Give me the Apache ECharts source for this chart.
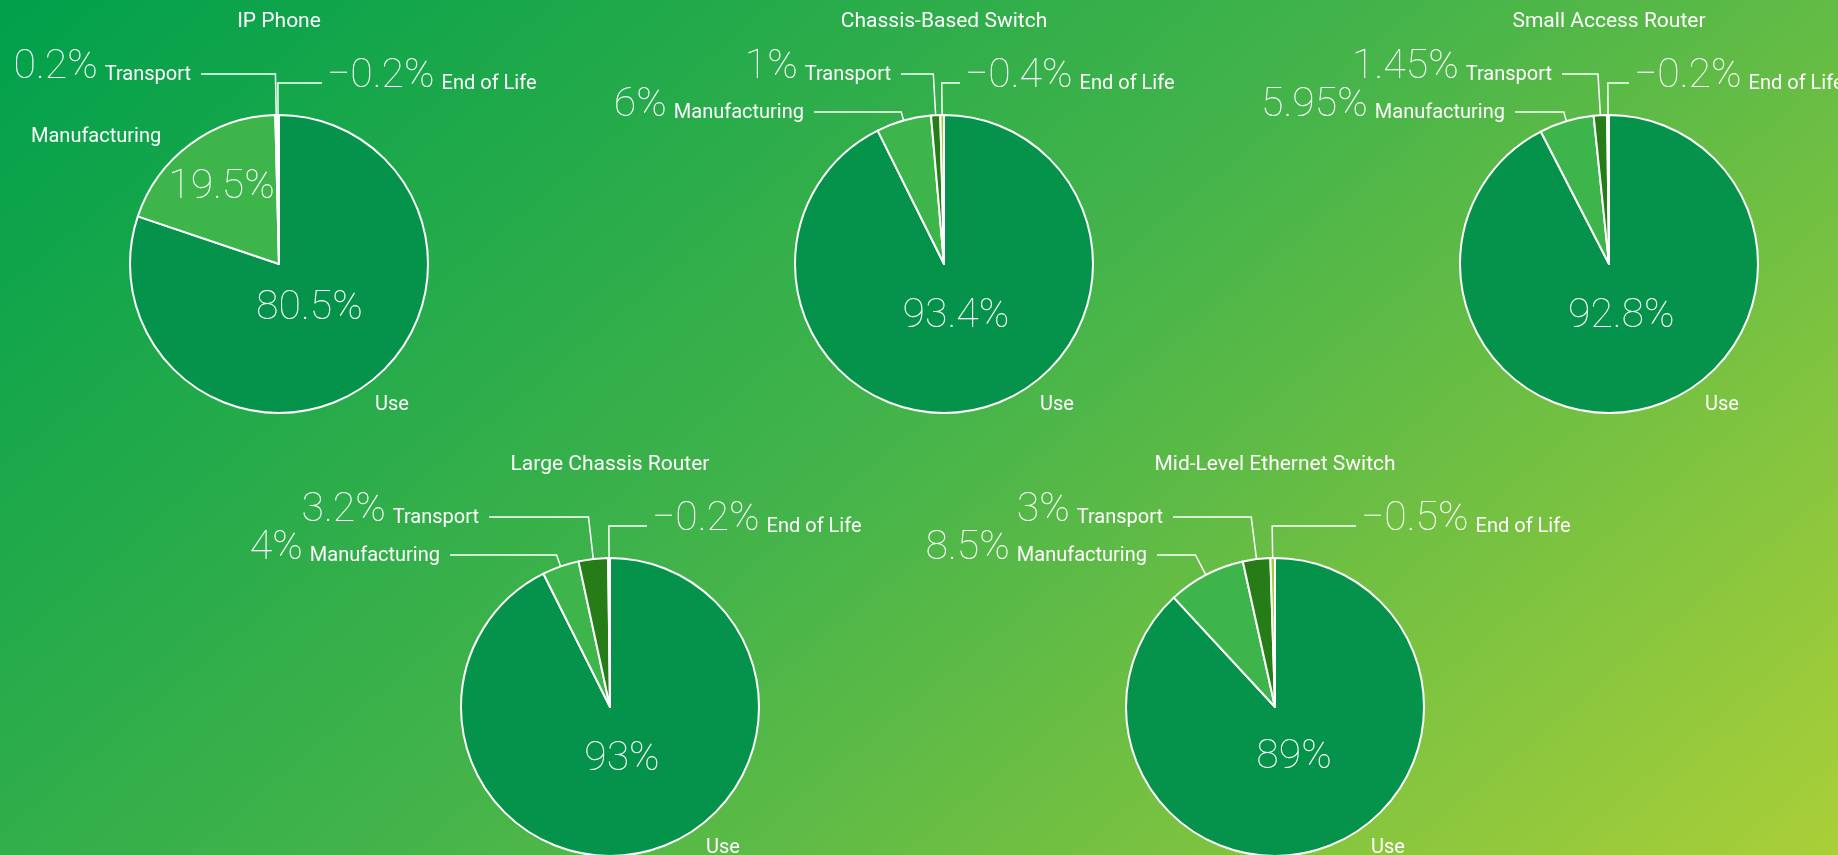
<!DOCTYPE html>
<html>
<head>
<meta charset="utf-8">
<script src="https://cdn.jsdelivr.net/npm/echarts@6/dist/echarts.min.js"></script>
<style>
  html, body { margin: 0; padding: 0; }
  #chart {
    width: 1838px; height: 855px;
    background: linear-gradient(140deg, #00a04b 0%, #45b44a 50%, #aacf38 100%);
  }
</style>
</head>
<body>
<div id="chart"></div>
<script>
// Life-cycle carbon footprint share per product, in percent
const titles = ['IP Phone', 'Chassis-Based Switch', 'Small Access Router', 'Large Chassis Router', 'Mid-Level Ethernet Switch'];
const stages = ['Use', 'Manufacturing', 'Transport', 'End of Life'];
const useShare = [80.5, 93.4, 92.8, 93, 89];
const manufacturingShare = [19.5, 6, 5.95, 4, 8.5];
const transportShare = [0.2, 1, 1.45, 3.2, 3];
const endOfLifeShare = [-0.2, -0.4, -0.2, -0.2, -0.5];

// ---- layout ----
const R = 149;
const centers = [[279, 264], [944, 264], [1609, 264], [610, 707], [1275, 707]];
// how far above the centre the leader of Manufacturing / Transport / End of Life runs
const leaderRise = [152, 190, 181];
// where each leader stops horizontally, relative to the centre (Manufacturing, Transport, End of Life)
const leaderReach = [[null, -78, 43], [-130, -43, 16], [-94, -47, 20], [-160, -121, 37], [-118, -102, 81]];
// big slices: depth of the value inside the slice, and where the name sits (left x, baseline) off the centre
const insideDepth = [0.35, 0.65];
const namePlace = [[96, 148], [-248, -120]];
const sliceColors = ['#05924a', '#3db54a', '#267c17', '#a4cc3c'];
const FONT = 'Roboto';
const NUM = 41, NAME = 20;
const mid = fs => 0.342 * fs;          // alphabetic baseline below the 'middle' line
const DIGIT_HALF = 16;                 // half the height of the big digits

const shares = titles.map((_, k) => [useShare[k], manufacturingShare[k], transportShare[k], endOfLifeShare[k]]);

const fmt = v => (v < 0 ? '\u2212' + (-v) : String(v)) + '%';

const measure = document.createElement('canvas').getContext('2d');
function nameWidth(s) { measure.font = NAME + 'px ' + FONT; return measure.measureText(s).width; }

const baseRich = {
  v: { fontFamily: FONT, fontSize: NUM, fontWeight: 100, lineHeight: NUM, color: '#fff', verticalAlign: 'bottom', align: 'center' },
  n: { fontFamily: FONT, fontSize: NAME, color: '#fff', verticalAlign: 'bottom', padding: [0, 0, 3, 7] },
  u: { fontFamily: FONT, fontSize: NAME, color: '#fff', align: 'center' }
};

const series = [];
const title = [];

titles.forEach((t, k) => {
  const [cx, cy] = centers[k];
  const signed = shares[k];
  const mags = signed.map(Math.abs);
  const total = mags.reduce((a, b) => a + b, 0);
  const anchors = [];
  let before = 0;

  const data = signed.map((v, i) => {
    const th = (before + mags[i] / 2) / total * 2 * Math.PI;
    before += mags[i];
    const val = fmt(v);
    const item = { name: stages[i], value: mags[i], itemStyle: { color: sliceColors[i] } };

    if (mags[i] >= 15) {
      // value inside the slice, name outside without a leader
      const depth = insideDepth[i];
      const vCx = cx + depth * R * Math.sin(th);
      const vBase = cy - depth * R * Math.cos(th) + DIGIT_HALF;
      const [nl, nb] = namePlace[i];
      const nBase = cy + nb;
      const shift = (cx + nl + nameWidth(stages[i]) / 2) - vCx;
      const pad = shift >= 0 ? [0, 0, 0, 2 * shift] : [0, -2 * shift, 0, 0];
      let top, lh, text;
      if (nBase > vBase) {
        top = vBase - NUM / 2 - mid(NUM);
        lh = 2 * (nBase - top - NUM - mid(NAME));
        text = '{v|' + val + '}\n{u|' + stages[i] + '}';
      } else {
        lh = 2 * (vBase - nBase - NUM / 2 - mid(NUM) + mid(NAME));
        top = nBase - lh / 2 - mid(NAME);
        text = '{u|' + stages[i] + '}\n{v|' + val + '}';
      }
      item.label = { formatter: text, rich: { u: { padding: pad, lineHeight: lh } } };
      item.labelLine = { show: false };
      anchors.push({ x: vCx, y: top, align: 'center', verticalAlign: 'top' });
    } else {
      // value + name beside an elbow leader
      const lineY = cy - leaderRise[i - 1];
      const sx = Math.sin(th), cs = Math.cos(th);
      const p0 = [cx + R * sx, cy - R * cs];
      const tt = (p0[1] - lineY) / cs;
      const p1 = [p0[0] + tt * sx, lineY];
      const p2 = [cx + leaderReach[k][i - 1], lineY];
      const toRight = p2[0] > p1[0];
      item.label = { formatter: '{v|' + val + '}{n|' + stages[i] + '}' };
      anchors.push({
        x: toRight ? p2[0] + 5 : p2[0] - 10,
        y: lineY + 7.5 + (NUM / 2 - mid(NUM)),
        align: toRight ? 'left' : 'right',
        verticalAlign: 'bottom',
        labelLinePoints: [p0, p1, p2]
      });
    }
    return item;
  });

  title.push({
    text: t, left: cx, top: cy - 254, textAlign: 'center', textVerticalAlign: 'top', padding: 0,
    textStyle: { color: '#fff', fontFamily: FONT, fontSize: 21, fontWeight: 'normal', lineHeight: 24 }
  });

  series.push({
    type: 'pie',
    name: t,
    center: [cx, cy],
    radius: R,
    startAngle: 90,
    clockwise: true,
    avoidLabelOverlap: false,
    silent: true,
    emphasis: { disabled: true },
    itemStyle: { borderColor: '#fff', borderWidth: 2 },
    label: {
      show: true, position: 'outside', color: '#fff', fontFamily: FONT, fontSize: NAME,
      overflow: 'none', textBorderWidth: 0, rich: baseRich
    },
    labelLine: { show: true, lineStyle: { color: '#fff', width: 1.5, opacity: 1 } },
    labelLayout: p => anchors[p.dataIndex],
    data: data
  });
});

const chart = echarts.init(document.getElementById('chart'));
chart.setOption({
  backgroundColor: 'transparent',
  animation: false,
  title: title,
  series: series
});
</script>
</body>
</html>
